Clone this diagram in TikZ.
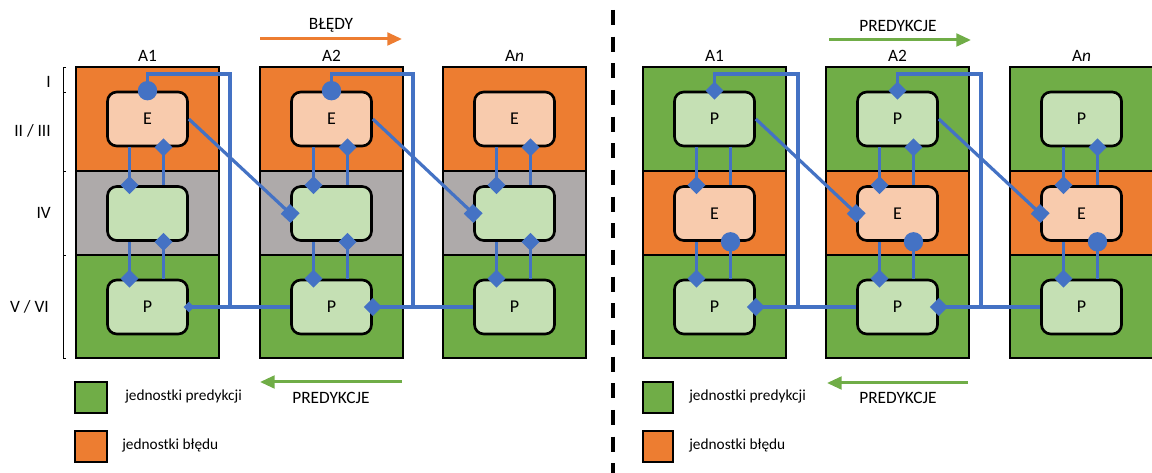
\documentclass[tikz,border=0pt]{standalone}
\usepackage{fontspec}
\setmainfont{Carlito}
\usepackage{xcolor}
\usetikzlibrary{arrows.meta}

\definecolor{orng}{RGB}{237,125,49}
\definecolor{lorng}{RGB}{248,203,173}
\definecolor{grn}{RGB}{112,173,71}
\definecolor{lgrn}{RGB}{197,224,180}
\definecolor{gry}{RGB}{174,170,170}
\definecolor{blu}{RGB}{68,114,196}

\tikzset{
  layer/.style={draw=black, line width=0.8pt},
  unit/.style={draw=black, line width=2pt, rounded corners=7pt, minimum width=60pt, minimum height=40.5pt, inner sep=0pt, font=\fontsize{13.5}{15}\selectfont},
  ebox/.style={unit, fill=lorng},
  pbox/.style={unit, fill=lgrn},
  head/.style={inner sep=0.75pt, font=\fontsize{13}{15}\selectfont},
  legtext/.style={anchor=west, inner sep=0.75pt, font=\fontsize{11.5}{13}\selectfont},
  conn/.style={blu, line width=2.4pt},
  dia/.style={-{Diamond[length=13.5pt,width=13.5pt]}, shorten >=-6.75pt},
  sdia/.style={{Diamond[length=13.5pt,width=13.5pt]}-, shorten <=-6.75pt},
  sdias/.style={{Diamond[length=8pt,width=8pt]}-, shorten <=-4pt},
  cir/.style={-{Circle[length=14.5pt]}, shorten >=-7.25pt},
  sqr/.style={-{Square[length=10pt,width=10pt]}, shorten >=-5pt},
  flow/.style={line width=2.25pt, -{Triangle[length=11pt,width=9.5pt]}}
}

\begin{document}
\begin{tikzpicture}[x=0.75pt,y=0.75pt,yscale=-1,xscale=1]
\useasboundingbox (0,0) rectangle (1152,473);

% left panel - layers
\draw [layer, fill=orng] (76,67) rectangle (219,171);
\draw [layer, fill=gry]  (76,171) rectangle (219,255);
\draw [layer, fill=grn]  (76,255) rectangle (219,358);
\draw [layer, fill=orng] (260,67) rectangle (403,171);
\draw [layer, fill=gry]  (260,171) rectangle (403,255);
\draw [layer, fill=grn]  (260,255) rectangle (403,358);
\draw [layer, fill=orng] (443,67) rectangle (586,171);
\draw [layer, fill=gry]  (443,171) rectangle (586,255);
\draw [layer, fill=grn]  (443,255) rectangle (586,358);

% bracket + layer names
\draw [line width=0.6pt] (66,67) -- (63,67) -- (63,358) -- (66,358) ;
\draw [line width=0.6pt] (63,92) -- (66,92) ;
\draw [line width=0.6pt] (63,171) -- (66,171) ;
\draw [line width=0.6pt] (63,255) -- (66,255) ;
\draw (52,82) node (lyI) [anchor=east][head] {I};
\draw (52,131) node (lyII) [anchor=east][head] {II / III};
\draw (52,213) node (lyIV) [anchor=east][head] {IV};
\draw (50,307) node (lyV) [anchor=east][head] {V / VI};

% left panel - units
\draw (147.5,119) node (lE1) [ebox] {E};
\draw (147.5,213.5) node (lM1) [pbox] {};
\draw (147.5,307) node (lP1) [pbox] {P};
\draw (331.5,119) node (lE2) [ebox] {E};
\draw (331.5,213.5) node (lM2) [pbox] {};
\draw (331.5,307) node (lP2) [pbox] {P};
\draw (514.5,119) node (lE3) [ebox] {E};
\draw (514.5,213.5) node (lM3) [pbox] {};
\draw (514.5,307) node (lP3) [pbox] {P};

\draw (147.5,56) node (lhA1) [head] {A1};
\draw (331.5,56) node (lhA2) [head] {A2};
\draw (514.5,56) node (lhAn) [head] {A\textit{n}};

% left panel - connections
\draw [conn, dia] ([xshift=-13.5pt]lE1.south) -- ([xshift=-13.5pt]lM1.north) ;
\draw [conn, dia] ([xshift=12pt]lM1.north) -- ([xshift=12pt]lE1.south) ;
\draw [conn, dia] ([xshift=-13.5pt]lM1.south) -- ([xshift=-13.5pt]lP1.north) ;
\draw [conn, dia] ([xshift=12pt]lP1.north) -- ([xshift=12pt]lM1.south) ;
\draw [conn, dia] ([xshift=-13.5pt]lE2.south) -- ([xshift=-13.5pt]lM2.north) ;
\draw [conn, dia] ([xshift=12pt]lM2.north) -- ([xshift=12pt]lE2.south) ;
\draw [conn, dia] ([xshift=-13.5pt]lM2.south) -- ([xshift=-13.5pt]lP2.north) ;
\draw [conn, dia] ([xshift=12pt]lP2.north) -- ([xshift=12pt]lM2.south) ;
\draw [conn, dia] ([xshift=-13.5pt]lE3.south) -- ([xshift=-13.5pt]lM3.north) ;
\draw [conn, dia] ([xshift=12pt]lM3.north) -- ([xshift=12pt]lE3.south) ;
\draw [conn, dia] ([xshift=-13.5pt]lM3.south) -- ([xshift=-13.5pt]lP3.north) ;
\draw [conn, dia] ([xshift=12pt]lP3.north) -- ([xshift=12pt]lM3.south) ;

\coordinate (lj1) at (230,307);
\coordinate (lt1) at (147.5,74);
\coordinate (lj2) at (413,307);
\coordinate (lt2) at (331.5,74);
\draw [conn, sdias] (lP1.east) -- (lP2.west) ;
\draw [conn, sdia] (lP2.east) -- (lP3.west) ;
\draw [conn, cir] (lj1) |- (lt1) -- (lE1.north) ;
\draw [conn, cir] (lj2) |- (lt2) -- (lE2.north) ;
\draw [conn, sqr] (lE1.east) -- (lM2.west) ;
\draw [conn, sqr] (lE2.east) -- (lM3.west) ;

% left panel - arrows + legend
\draw [flow, orng] (260,39) -- (402,39) ;
\draw (331,25) node (lerr) [head] {BŁĘDY};
\draw [flow, grn] (402,382) -- (260,382) ;
\draw (331,398) node (lpred) [head] {PREDYKCJE};
\draw [layer, fill=grn] (75,382) rectangle (107,413);
\draw [layer, fill=orng] (75,431) rectangle (107,462);
\draw (124,396) node (llg1) [legtext] {jednostki predykcji};
\draw (121,445) node (llg2) [legtext] {jednostki błędu};

% separator
\draw [line width=3pt, dash pattern=on 11.25pt off 8.75pt] (613,10) -- (613,473) ;

% right panel - layers
\draw [layer, fill=grn]  (643,67) rectangle (786,171);
\draw [layer, fill=orng] (643,171) rectangle (786,255);
\draw [layer, fill=grn]  (643,255) rectangle (786,358);
\draw [layer, fill=grn]  (826,67) rectangle (969,171);
\draw [layer, fill=orng] (826,171) rectangle (969,255);
\draw [layer, fill=grn]  (826,255) rectangle (969,358);
\draw [layer, fill=grn]  (1010,67) rectangle (1153,171);
\draw [layer, fill=orng] (1010,171) rectangle (1153,255);
\draw [layer, fill=grn]  (1010,255) rectangle (1153,358);

% right panel - units
\draw (714.5,119) node (rT1) [pbox] {P};
\draw (714.5,213.5) node (rE1) [ebox] {E};
\draw (714.5,307) node (rP1) [pbox] {P};
\draw (897.5,119) node (rT2) [pbox] {P};
\draw (897.5,213.5) node (rE2) [ebox] {E};
\draw (897.5,307) node (rP2) [pbox] {P};
\draw (1081.5,119) node (rT3) [pbox] {P};
\draw (1081.5,213.5) node (rE3) [ebox] {E};
\draw (1081.5,307) node (rP3) [pbox] {P};

\draw (714.5,56) node (rhA1) [head] {A1};
\draw (897.5,56) node (rhA2) [head] {A2};
\draw (1081.5,56) node (rhAn) [head] {A\textit{n}};

% right panel - connections
\draw [conn, dia] ([xshift=-13.5pt]rT1.south) -- ([xshift=-13.5pt]rE1.north) ;
\draw [conn] ([xshift=12pt]rE1.north) -- ([xshift=12pt]rT1.south) ;
\draw [conn, dia] ([xshift=-13.5pt]rE1.south) -- ([xshift=-13.5pt]rP1.north) ;
\draw [conn, cir] ([xshift=12pt]rP1.north) -- ([xshift=12pt]rE1.south) ;
\draw [conn, dia] ([xshift=-13.5pt]rT2.south) -- ([xshift=-13.5pt]rE2.north) ;
\draw [conn, dia] ([xshift=12pt]rE2.north) -- ([xshift=12pt]rT2.south) ;
\draw [conn, dia] ([xshift=-13.5pt]rE2.south) -- ([xshift=-13.5pt]rP2.north) ;
\draw [conn, cir] ([xshift=12pt]rP2.north) -- ([xshift=12pt]rE2.south) ;
\draw [conn, dia] ([xshift=-13.5pt]rT3.south) -- ([xshift=-13.5pt]rE3.north) ;
\draw [conn, dia] ([xshift=12pt]rE3.north) -- ([xshift=12pt]rT3.south) ;
\draw [conn, dia] ([xshift=-13.5pt]rE3.south) -- ([xshift=-13.5pt]rP3.north) ;
\draw [conn, cir] ([xshift=12pt]rP3.north) -- ([xshift=12pt]rE3.south) ;

\coordinate (rj1) at (798,307);
\coordinate (rt1) at (714.5,74);
\coordinate (rj2) at (981,307);
\coordinate (rt2) at (897.5,74);
\draw [conn, sdia] (rP1.east) -- (rP2.west) ;
\draw [conn, sdia] (rP2.east) -- (rP3.west) ;
\draw [conn, dia] (rj1) |- (rt1) -- (rT1.north) ;
\draw [conn, dia] (rj2) |- (rt2) -- (rT2.north) ;
\draw [conn, sqr] (rT1.east) -- (rE2.west) ;
\draw [conn, sqr] (rT2.east) -- (rE3.west) ;

% right panel - arrows + legend
\draw [flow, grn] (829,40) -- (971,40) ;
\draw (898,26) node (rpred1) [head] {PREDYKCJE};
\draw [flow, grn] (968,383) -- (827,383) ;
\draw (898,398) node (rpred2) [head] {PREDYKCJE};
\draw [layer, fill=grn] (643,382) rectangle (673,413);
\draw [layer, fill=orng] (643,431) rectangle (673,462);
\draw (688,396) node (rlg1) [legtext] {jednostki predykcji};
\draw (688,445) node (rlg2) [legtext] {jednostki błędu};

\end{tikzpicture}
\end{document}
